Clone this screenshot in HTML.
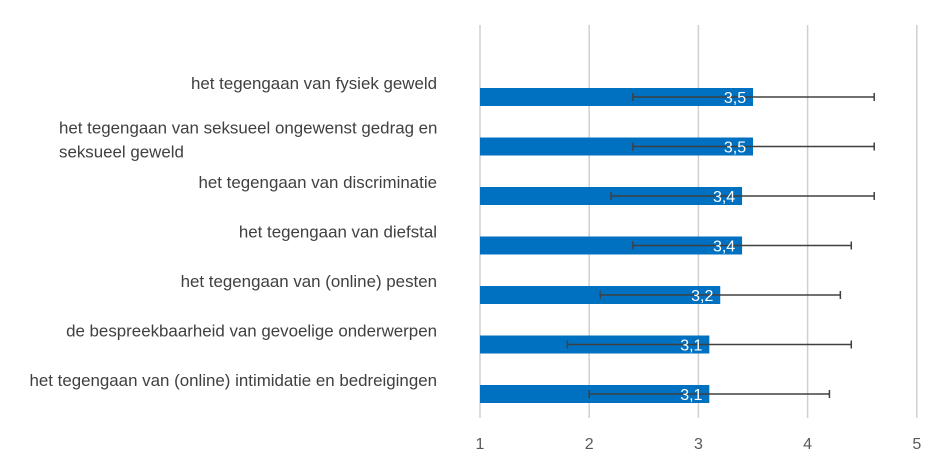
<!DOCTYPE html>
<html><head><meta charset="utf-8"><style>
body{margin:0;background:#fff;}
svg text{font-family:"Liberation Sans",sans-serif;}
</style></head><body>
<svg width="945" height="467" id="c">
</svg>
<script>
const categories=["het tegengaan van fysiek geweld","het tegengaan van seksueel ongewenst gedrag en|seksueel geweld","het tegengaan van discriminatie","het tegengaan van diefstal","het tegengaan van (online) pesten","de bespreekbaarheid van gevoelige onderwerpen","het tegengaan van (online) intimidatie en bedreigingen"];
const values=[3.5,3.5,3.4,3.4,3.2,3.1,3.1];
const valueLabels=["3,5","3,5","3,4","3,4","3,2","3,1","3,1"];
const errLow=[2.4,2.4,2.2,2.4,2.1,1.8,2.0];
const errHigh=[4.61,4.61,4.61,4.4,4.3,4.4,4.2];
const ticks=[1,2,3,4,5];
const svg=document.getElementById('c');
const NS='http://www.w3.org/2000/svg';
const x=v=>480+(v-1)*109.2;
const yc=i=>97+i*49.5;
function mk(t,a){const e=document.createElementNS(NS,t);for(const k in a)e.setAttribute(k,a[k]);svg.appendChild(e);return e;}
ticks.forEach(t=>{
  const g=mk('line',{x1:x(t),x2:x(t),y1:25,y2:418,stroke:'#d0d0d0','stroke-width':1.5});
  
  
  const l=mk('text',{x:x(t),y:449,'text-anchor':'middle','font-size':16,fill:'#595959'});
  l.textContent=t;
  
  
});
categories.forEach((c,i)=>{
  const cy=yc(i);
  const b=mk('rect',{x:x(1),y:cy-9,width:x(values[i])-x(1),height:18,fill:'#0070c0'});
  
  
  const e=mk('path',{d:`M${x(errLow[i])},${cy-4}V${cy+4}M${x(errLow[i])},${cy}H${x(errHigh[i])}M${x(errHigh[i])},${cy-4}V${cy+4}`,stroke:'#404040','stroke-width':1.5,fill:'none'});
  
  
  const v=mk('text',{x:x(values[i])-18,y:cy+6,'text-anchor':'middle','font-size':16,fill:'#fff'});
  v.textContent=valueLabels[i];
  
  
  const lines=c.split('|');
  const t=mk('text',{x:437,'font-size':16.9,fill:'#404040','text-anchor':lines.length>1?'start':'end'});
  
  
  lines.forEach((s,j)=>{const ts=document.createElementNS(NS,'tspan');ts.setAttribute('x',lines.length>1?59:437);ts.setAttribute('y',cy-8+j*24-(lines.length>1?5:0));ts.textContent=s;t.appendChild(ts);});
});
</script>
</body></html>
